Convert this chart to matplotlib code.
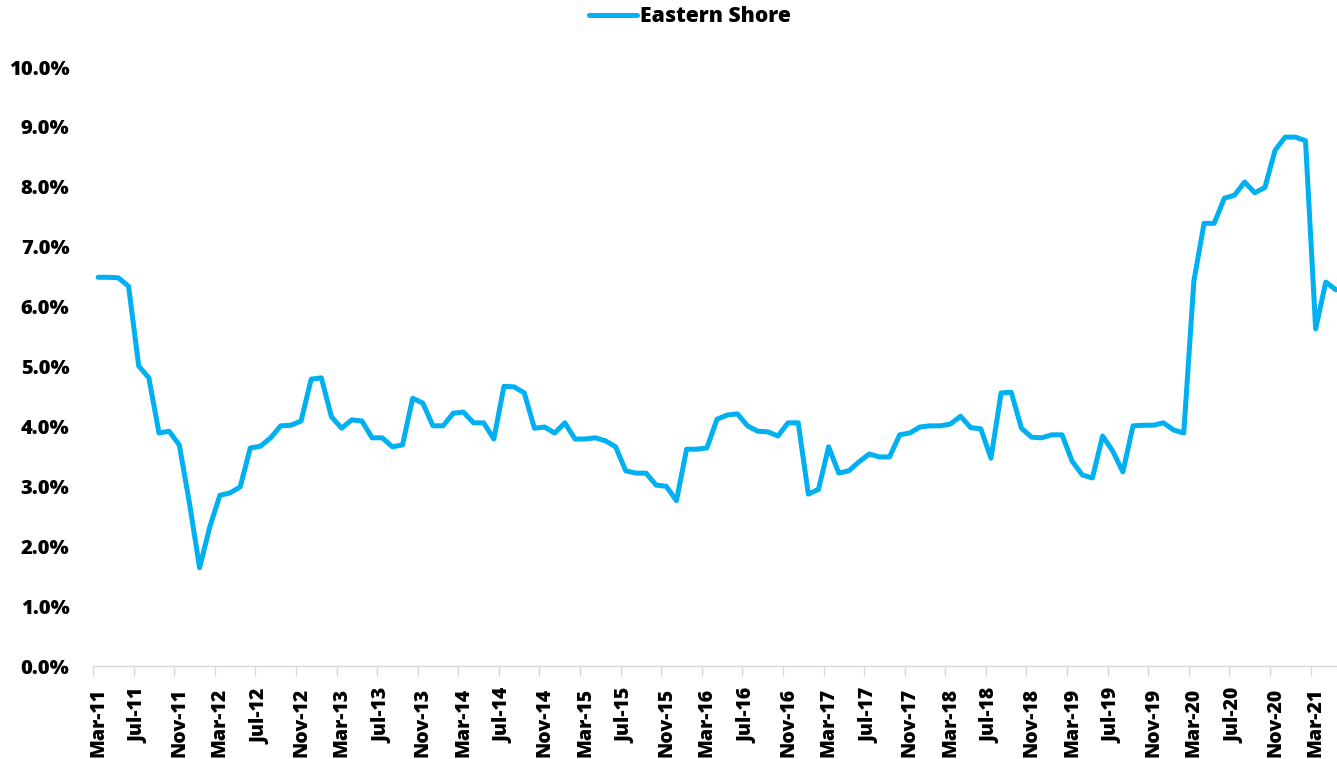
import pandas as pd
import matplotlib
matplotlib.use("Agg")
import matplotlib.pyplot as plt
from matplotlib.ticker import FixedLocator, FuncFormatter

# monthly series, Mar-11 .. May-21
months = pd.date_range("2011-03-01", "2021-05-01", freq="MS").strftime("%b-%y").tolist()
eastern_shore = [
    6.49, 6.49, 6.48, 6.34, 5.01, 4.81, 3.89, 3.92, 3.69, 2.72,   # Mar-11 .. Dec-11
    1.64, 2.32, 2.85, 2.89, 2.99, 3.64, 3.67, 3.81, 4.01, 4.02,   # Jan-12 .. Oct-12
    4.09, 4.79, 4.81, 4.16, 3.97, 4.11, 4.09, 3.81, 3.81, 3.66,   # Nov-12 .. Aug-13
    3.69, 4.47, 4.39, 4.01, 4.01, 4.22, 4.24, 4.06, 4.06, 3.79,   # Sep-13 .. Jun-14
    4.67, 4.66, 4.56, 3.97, 3.99, 3.89, 4.06, 3.79, 3.79, 3.81,   # Jul-14 .. Apr-15
    3.76, 3.66, 3.26, 3.22, 3.22, 3.02, 3.00, 2.76, 3.62, 3.62,   # May-15 .. Feb-16
    3.64, 4.12, 4.19, 4.21, 4.01, 3.92, 3.91, 3.84, 4.06, 4.06,   # Mar-16 .. Dec-16
    2.87, 2.95, 3.66, 3.22, 3.26, 3.41, 3.54, 3.49, 3.49, 3.86,   # Jan-17 .. Oct-17
    3.89, 3.99, 4.01, 4.01, 4.04, 4.17, 3.98, 3.96, 3.47, 4.56,   # Nov-17 .. Aug-18
    4.57, 3.97, 3.82, 3.81, 3.86, 3.86, 3.42, 3.19, 3.14, 3.84,   # Sep-18 .. Jun-19
    3.59, 3.24, 4.01, 4.02, 4.02, 4.06, 3.94, 3.89, 6.43, 7.39,   # Jul-19 .. Apr-20
    7.39, 7.81, 7.86, 8.08, 7.90, 7.99, 8.61, 8.83, 8.83, 8.77,   # May-20 .. Feb-21
    5.63, 6.41, 6.28,                                             # Mar-21 .. May-21
]
y_ticks = [0, 1, 2, 3, 4, 5, 6, 7, 8, 9, 10]

plt.rcParams["font.family"] = ["Open Sans", "DejaVu Sans"]
plt.rcParams["font.weight"] = "heavy"

fig = plt.figure(figsize=(13.37, 7.59), dpi=100)
ax = fig.add_axes([0.0696, 0.1225, 0.9334, 0.7892])

x = list(range(len(months)))
ax.plot(x, eastern_shore, color="#00B0F0", linewidth=3.6,
        solid_joinstyle="round", solid_capstyle="round",
        label="Eastern Shore", clip_on=False)

ax.set_xlim(-0.5, len(months) - 0.5)
ax.set_ylim(0, 10)

# y axis: labels only
ax.set_yticks(y_ticks)
ax.yaxis.set_major_formatter(FuncFormatter(lambda v, p: f"{v:.1f}%"))
ax.tick_params(axis="y", length=0, pad=17, labelsize=14.5)

# x axis: a label every 4 months, tick marks on category boundaries
label_pos = x[::4]
ax.xaxis.set_major_locator(FixedLocator(label_pos))
ax.set_xticklabels([months[i] for i in label_pos], rotation=90, va="top", ha="center")
ax.xaxis.set_minor_locator(FixedLocator([p - 0.5 for p in label_pos]))
ax.tick_params(axis="x", which="major", length=0, pad=16, labelsize=14)
ax.tick_params(axis="x", which="minor", length=7, width=1, color="#d9d9d9")

for s in ["top", "right", "left"]:
    ax.spines[s].set_visible(False)
ax.spines["bottom"].set_color("#d9d9d9")
ax.spines["bottom"].set_linewidth(1)

fig.legend(loc="upper center", bbox_to_anchor=(0.516, 1.017), frameon=False,
           handlelength=2.3, handletextpad=0.15,
           prop={"weight": "heavy", "size": 15.2})

fig.savefig("out.png", dpi=100)
